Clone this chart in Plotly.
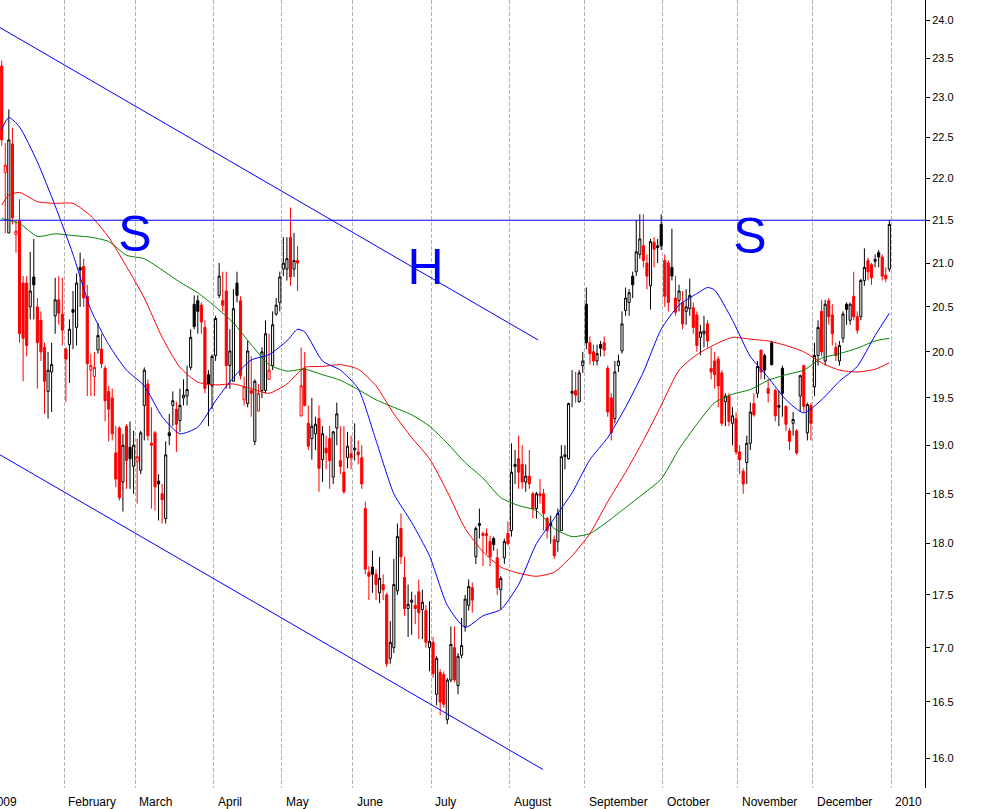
import plotly.graph_objects as go

# ---------------- data ----------------
opens = [
    23.40, 22.07, 21.35, 22.42, 21.33, 21.50, 20.77, 20.77, 20.50, 20.84,
    20.50, 20.35, 20.05, 19.57, 19.78, 20.40, 20.58, 20.42,
    20.03, 20.08, 20.47, 20.27, 20.95, 20.96, 20.62, 19.80, 19.73, 20.02,
    20.03, 19.82, 19.57, 19.50, 18.92, 19.18, 18.62, 19.20, 18.98,
    18.78, 18.83, 18.74, 19.42, 19.65, 19.02, 19.13, 18.63, 18.50, 18.25,
    19.13, 19.42, 19.38, 19.26, 19.50, 19.52, 19.83, 20.53, 20.57, 20.52,
    20.27, 19.75,
    19.63, 19.96, 20.63, 20.57, 20.68, 19.85, 19.68, 20.77, 20.57, 19.48,
    19.44, 19.58, 19.04, 19.36, 19.58, 19.58, 19.70, 19.85, 20.42, 20.55,
    20.93, 20.93, 21.30, 20.93, 21.03, 19.31, 19.82, 19.23, 19.07, 19.12,
    19.28, 18.85, 18.97, 19.07, 18.67, 19.18, 18.84, 18.72, 18.87, 18.91,
    18.95, 18.93, 18.87, 18.35, 17.72, 17.77, 17.70, 17.52, 17.60, 17.50,
    16.90, 17.00, 17.54, 18.15, 17.67, 17.37, 17.43, 17.40, 17.53, 17.36,
    17.35, 17.00, 17.05,
    16.57, 16.77, 16.75, 16.34, 16.70, 17.00, 16.65, 16.93, 17.20, 17.40,
    17.57, 17.87, 18.18, 18.08, 18.10, 18.02, 18.05, 17.86, 17.55, 17.86,
    18.10,
    18.13, 18.78, 18.86, 18.80, 18.62, 18.68, 18.50, 18.35, 18.50, 18.50,
    18.25, 18.20, 18.04, 18.02, 18.13, 18.88, 18.86, 19.55, 19.58, 19.46,
    19.85,
    20.53, 20.10, 20.00, 19.90, 20.08, 20.10, 19.82, 19.50, 19.28, 19.85,
    20.01, 20.46, 20.55, 20.85, 20.90, 21.10, 21.20, 21.00, 20.74, 21.24,
    21.20, 21.45,
    21.03, 21.00, 20.95, 20.60, 20.57, 20.55, 20.45, 20.48, 20.49, 20.41,
    20.16, 20.20, 20.31, 19.82, 19.90, 19.92, 19.77, 19.46, 19.52, 19.23,
    19.28,
    18.93, 18.73, 18.82, 19.02, 19.44, 19.55, 20.02, 19.96, 19.60, 20.10,
    19.58, 19.40, 19.82, 19.41, 19.15, 19.23, 19.15, 19.52, 19.85, 19.13,
    19.42,
    19.62, 19.96, 20.45, 19.90, 20.57, 20.41, 20.05, 19.90, 20.15, 20.53,
    20.35, 20.62, 20.39, 20.39, 20.80, 21.03, 20.98, 21.04, 21.12, 21.07,
    20.86, 20.93,
]
highs = [
    23.47, 22.43, 22.85, 22.62, 21.50, 21.75, 20.85, 20.85, 21.13, 21.28,
    20.60, 20.45, 20.10, 20.00, 20.10, 20.83, 20.85, 20.83,
    20.05, 20.36, 20.68, 20.88, 21.12, 21.05, 20.75, 19.98, 20.00, 20.32,
    20.20, 19.85, 19.63, 19.60, 19.20, 19.20, 19.12, 19.22, 19.25,
    19.15, 19.07, 19.15, 19.83, 19.70, 19.40, 19.15, 18.70, 18.60, 19.04,
    19.33, 19.57, 19.46, 19.60, 19.70, 19.85, 20.25, 20.63, 20.63, 20.55,
    20.35, 19.80,
    19.97, 20.40, 21.00, 20.90, 20.90, 20.25, 20.70, 20.90, 20.62, 19.73,
    20.12, 19.95, 19.70, 19.65, 20.05, 20.35, 20.20, 20.45, 20.60, 20.90,
    21.30, 21.30, 21.65, 21.35, 21.20, 20.05, 20.00, 19.42, 19.50, 19.30,
    19.42, 19.20, 19.10, 19.20, 19.15, 19.45, 19.20, 19.20, 19.14, 19.10,
    19.23, 19.05, 19.00, 18.42, 17.78, 17.93, 17.75, 17.87, 17.70, 17.52,
    17.25, 17.85, 18.20, 18.30, 17.87, 17.60, 17.53, 17.50, 17.65, 17.55,
    17.40, 17.44, 17.10,
    16.92, 16.80, 16.78, 16.72, 17.20, 17.20, 16.95, 17.28, 17.50, 17.65,
    17.62, 18.17, 18.35, 18.12, 18.15, 18.08, 18.07, 17.95, 17.68, 18.05,
    18.22,
    19.02, 18.95, 19.10, 19.00, 18.80, 18.95, 18.52, 18.52, 18.65, 18.55,
    18.27, 18.28, 18.08, 18.35, 19.00, 19.00, 19.45, 19.80, 19.78, 19.80,
    20.00,
    20.72, 20.17, 20.08, 20.08, 20.12, 20.17, 19.85, 19.55, 19.90, 19.97,
    20.45, 20.72, 20.70, 20.90, 21.50, 21.57, 21.57, 21.10, 21.28, 21.30,
    21.28, 21.57,
    21.10, 21.03, 21.40, 20.85, 20.75, 20.68, 20.70, 20.82, 20.55, 20.45,
    20.30, 20.40, 20.35, 20.05, 20.00, 19.95, 19.80, 19.55, 19.55, 19.40,
    19.35,
    19.00, 18.76, 19.10, 19.45, 19.55, 19.90, 20.02, 19.98, 19.70, 20.12,
    19.60, 19.58, 19.85, 19.42, 19.18, 19.35, 19.17, 19.75, 19.86, 19.45,
    19.45,
    20.10, 20.35, 20.58, 20.58, 20.60, 20.53, 20.10, 20.12, 20.45, 20.55,
    20.55, 20.90, 20.45, 20.82, 21.17, 21.06, 21.00, 21.10, 21.15, 21.10,
    20.95, 21.50,
]
lows = [
    22.40, 21.35, 21.35, 21.45, 21.12, 20.10, 19.68, 19.95, 20.36, 20.36,
    19.60, 19.90, 19.33, 19.28, 19.35, 20.20, 20.30, 20.07,
    19.46, 19.66, 20.03, 20.07, 20.50, 20.50, 19.52, 19.52, 19.52, 19.98,
    19.82, 19.25, 19.04, 19.05, 18.57, 18.43, 18.32, 18.55, 18.55,
    18.50, 18.40, 18.70, 19.05, 19.05, 18.35, 18.33, 18.23, 18.20, 18.20,
    19.00, 19.20, 18.93, 19.14, 19.42, 19.42, 19.80, 20.25, 20.20, 20.20,
    19.55, 19.20,
    19.38, 19.90, 20.60, 20.45, 19.60, 19.60, 19.68, 20.55, 19.70, 19.42,
    19.40, 19.30, 19.00, 19.36, 19.50, 19.55, 19.70, 19.80, 20.40, 20.45,
    20.85, 20.80, 20.74, 20.84, 20.68, 19.30, 19.41, 18.95, 18.85, 18.95,
    18.52, 18.62, 18.75, 18.55, 18.60, 19.00, 18.70, 18.50, 18.76, 18.75,
    18.84, 18.80, 18.55, 17.70, 17.45, 17.52, 17.45, 17.42, 17.45, 16.82,
    16.85, 16.95, 17.50, 17.80, 17.30, 17.10, 17.12, 17.22, 17.08, 17.08,
    17.00, 16.78, 16.72,
    16.47, 16.38, 16.45, 16.30, 16.68, 16.68, 16.57, 16.90, 17.15, 17.35,
    17.33, 17.80, 18.05, 17.78, 17.90, 17.78, 17.93, 17.50, 17.36, 17.80,
    17.98,
    18.07, 18.60, 18.55, 18.55, 18.52, 18.55, 18.25, 18.25, 18.40, 18.13,
    18.05, 18.00, 17.85, 17.92, 18.13, 18.75, 18.85, 19.40, 19.45, 19.45,
    19.77,
    20.03, 19.86, 19.85, 19.85, 19.95, 19.95, 19.30, 19.05, 19.23, 19.78,
    19.98, 20.40, 20.40, 20.60, 20.85, 21.05, 20.95, 20.70, 20.47, 20.95,
    21.00, 21.15,
    20.50, 20.45, 20.80, 20.40, 20.45, 20.25, 20.30, 20.40, 20.20, 20.00,
    19.96, 20.05, 20.05, 19.70, 19.60, 19.40, 19.20, 19.20, 19.20, 19.00,
    18.90,
    18.70, 18.50, 18.60, 18.95, 19.30, 19.50, 19.70, 19.70, 19.45, 19.85,
    19.25, 19.20, 19.30, 19.15, 18.95, 19.10, 18.90, 19.35, 19.35, 19.05,
    19.05,
    19.52, 19.85, 19.95, 19.85, 20.30, 20.07, 19.90, 19.85, 20.10, 20.30,
    20.30, 20.35, 20.20, 20.35, 20.74, 20.80, 20.75, 20.95, 20.95, 20.80,
    20.78, 20.90,
]
closes = [
    22.47, 22.16, 22.47, 21.53, 21.37, 20.20, 20.15, 20.07, 20.68, 20.75,
    20.10, 20.00, 19.68, 19.80, 19.86, 20.58, 20.43, 20.24,
    19.92, 20.25, 20.44, 20.77, 20.92, 20.60, 19.87, 19.85, 19.83, 20.18,
    19.87, 19.47, 19.38, 19.12, 18.65, 18.46, 19.00, 18.84, 18.86,
    19.00, 18.88, 19.13, 19.80, 19.10, 19.00, 18.57, 18.60, 18.44, 18.90,
    19.10, 19.47, 19.22, 19.42, 19.53, 19.59, 20.16, 20.28, 20.45, 20.33,
    19.60, 19.65,
    19.95, 20.37, 20.85, 20.52, 19.85, 20.01, 20.48, 20.63, 19.74, 19.62,
    20.01, 19.55, 19.68, 19.55, 20.00, 20.20, 19.80, 20.30, 20.52, 20.84,
    21.00, 21.05, 20.84, 21.03, 21.00, 19.63, 19.42, 18.99, 19.20, 19.22,
    18.76, 19.12, 18.92, 18.84, 19.14, 19.33, 18.78, 18.52, 18.99, 18.87,
    18.97, 18.90, 18.60, 17.75, 17.68, 17.70, 17.60, 17.66, 17.55, 16.85,
    17.05, 17.60, 18.07, 17.87, 17.37, 17.41, 17.45, 17.37, 17.33, 17.43,
    17.05, 17.06, 16.76,
    16.90, 16.50, 16.48, 16.70, 17.03, 16.70, 16.92, 17.02, 17.46, 17.58,
    17.45, 18.15, 18.20, 18.10, 18.08, 17.87, 17.99, 17.57, 17.66, 18.02,
    18.00,
    18.72, 18.80, 18.72, 18.62, 18.68, 18.60, 18.35, 18.50, 18.48, 18.30,
    18.13, 18.18, 17.88, 18.30, 18.88, 18.90, 19.44, 19.57, 19.53, 19.77,
    19.90,
    20.10, 19.98, 19.90, 19.98, 20.04, 20.02, 19.35, 19.13, 19.78, 19.90,
    20.31, 20.60, 20.66, 20.75, 21.13, 21.28, 21.03, 20.85, 21.25, 21.16,
    21.18, 21.20,
    20.62, 20.55, 20.85, 20.44, 20.68, 20.31, 20.50, 20.63, 20.27, 20.07,
    20.22, 20.23, 20.12, 19.78, 19.75, 19.63, 19.23, 19.52, 19.25, 19.31,
    18.93,
    18.85, 18.60, 19.02, 19.35, 19.32, 19.84, 19.78, 19.80, 19.55, 19.86,
    19.31, 19.42, 19.55, 19.22, 19.04, 19.27, 18.92, 19.74, 19.41, 19.43,
    19.23,
    19.96, 20.27, 20.00, 20.53, 20.39, 20.20, 19.96, 20.07, 20.42, 20.47,
    20.53, 20.39, 20.24, 20.80, 20.95, 20.90, 20.83, 21.02, 21.07, 20.85,
    20.82, 21.45,
]
prev_close_before = 23.60

# moving averages (read at sample days)
blue_days = [0, 2, 5, 10, 15, 20, 25, 30, 35, 40, 45, 50, 55, 60, 65, 70, 75, 80, 83, 85,
             90, 95, 100, 105, 110, 115, 120, 125, 130, 135, 140, 145, 150, 155, 160, 165,
             170, 175, 180, 185, 190, 195, 198, 200, 205, 210, 215, 220, 225, 230, 235,
             240, 245, 249]
blue_vals = [22.60, 22.75, 22.63, 22.20, 21.67, 21.10, 20.47, 20.08, 19.80, 19.63, 19.30,
             19.12, 19.19, 19.47, 19.72, 19.91, 19.97, 20.12, 20.25, 20.22, 19.90, 19.80,
             19.60, 19.05, 18.50, 18.21, 17.88, 17.40, 17.19, 17.30, 17.36, 17.60, 18.00,
             18.25, 18.51, 18.85, 19.08, 19.40, 19.78, 20.25, 20.52, 20.65, 20.72, 20.69,
             20.35, 19.95, 19.72, 19.48, 19.34, 19.48, 19.68, 19.84, 20.18, 20.43]
red_days = [0, 2, 5, 10, 15, 20, 25, 30, 35, 40, 45, 50, 55, 60, 65, 70, 75, 80, 85, 90,
            95, 100, 105, 110, 115, 120, 125, 130, 135, 140, 145, 150, 155, 160, 165, 170,
            175, 180, 185, 190, 195, 200, 205, 210, 215, 220, 225, 230, 235, 240, 245, 249]
red_vals = [21.68, 21.80, 21.83, 21.72, 21.70, 21.70, 21.55, 21.30, 20.96, 20.60, 20.16,
            19.83, 19.67, 19.64, 19.65, 19.60, 19.55, 19.65, 19.83, 19.84, 19.86, 19.81,
            19.63, 19.33, 19.08, 18.86, 18.52, 18.15, 17.92, 17.77, 17.71, 17.68, 17.72,
            17.88, 18.10, 18.42, 18.72, 19.05, 19.42, 19.80, 19.97, 20.08, 20.16, 20.14,
            20.12, 20.07, 20.00, 19.88, 19.80, 19.78, 19.81, 19.88]
green_days = [0, 5, 10, 15, 20, 25, 30, 35, 40, 45, 50, 55, 60, 65, 70, 75, 80, 85, 90,
              95, 100, 105, 110, 115, 120, 125, 130, 135, 140, 145, 150, 155, 160, 165,
              170, 175, 180, 185, 190, 195, 200, 205, 210, 215, 220, 225, 230, 235, 240,
              245, 249]
green_vals = [21.52, 21.46, 21.31, 21.34, 21.32, 21.30, 21.25, 21.09, 21.05, 20.92, 20.78,
              20.66, 20.50, 20.32, 20.08, 19.86, 19.79, 19.81, 19.75, 19.69, 19.59, 19.48,
              19.40, 19.32, 19.20, 19.02, 18.82, 18.66, 18.46, 18.38, 18.33, 18.15, 18.07,
              18.10, 18.22, 18.36, 18.50, 18.65, 18.96, 19.22, 19.45, 19.54, 19.59, 19.69,
              19.75, 19.80, 19.93, 19.98, 20.04, 20.12, 20.15]

# channel lines and resistance level
upper_line_days = [-0.48, 150.5]
upper_line_vals = [23.90, 20.13]
lower_line_days = [-0.48, 151.8]
lower_line_vals = [18.90, 15.90]
resistance = 21.5

# pattern labels
pattern_text = ["S", "H", "S"]
pattern_days = [37.4, 118.9, 209.9]
pattern_vals = [21.28, 20.90, 21.26]

# month axis
month_names = ["2009", "February", "March", "April", "May", "June", "July", "August",
               "September", "October", "November", "December", "2010"]
month_first_day = [-4, 18, 38, 60, 79, 99, 121, 143, 164, 186, 207, 228, 250]

y_ticks = [16.0 + 0.5 * k for k in range(17)]

# ---------------- figure ----------------
FONT = "Liberation Sans, Arial, sans-serif"
X_RANGE = [-0.48, 259.0]
Y_RANGE = [1.196962, 1.384983]

n = len(closes)
days = list(range(n))
prev = [prev_close_before] + closes[:-1]
black_idx = [i for i in days if closes[i] >= prev[i]]
red_idx = [i for i in days if closes[i] < prev[i]]

fig = go.Figure()

def add_ma(dx, dy, color):
    fig.add_trace(go.Scatter(x=dx, y=dy, mode="lines",
                             line=dict(color=color, width=1, shape="spline", smoothing=0.6),
                             hoverinfo="skip", showlegend=False))

add_ma(green_days, green_vals, "#008000")
add_ma(red_days, red_vals, "#ff0000")
add_ma(blue_days, blue_vals, "#0000ff")

for dx, dy in [(upper_line_days, upper_line_vals), (lower_line_days, lower_line_vals),
               (X_RANGE, [resistance, resistance])]:
    fig.add_trace(go.Scatter(x=dx, y=dy, mode="lines",
                             line=dict(color="#0000ff", width=1),
                             hoverinfo="skip", showlegend=False))

def add_candles(idx, color):
    fig.add_trace(go.Candlestick(
        x=idx,
        open=[opens[i] for i in idx], high=[highs[i] for i in idx],
        low=[lows[i] for i in idx], close=[closes[i] for i in idx],
        increasing=dict(line=dict(color=color, width=1), fillcolor="white"),
        decreasing=dict(line=dict(color=color, width=1), fillcolor=color),
        whiskerwidth=0, hoverinfo="skip", showlegend=False))

add_candles(black_idx, "#000000")
add_candles(red_idx, "#ff0000")

fig.add_trace(go.Scatter(x=pattern_days, y=pattern_vals, mode="text", text=pattern_text,
                         textposition="middle center",
                         textfont=dict(family=FONT, size=50, color="#0000ff"),
                         hoverinfo="skip", showlegend=False))

grid_days = [d - 0.5 for d in month_first_day]
span = X_RANGE[1] - X_RANGE[0]
for name, g in zip(month_names, grid_days):
    fig.add_annotation(x=(g - X_RANGE[0]) / span, xref="paper", y=0, yref="paper",
                       text=name, showarrow=False, xanchor="left", yanchor="top",
                       xshift=2, yshift=-5, font=dict(family=FONT, size=12, color="black"))

fig.update_layout(
    width=982, height=809,
    margin=dict(l=0, r=57, t=0, b=21),
    paper_bgcolor="white", plot_bgcolor="white",
    showlegend=False,
    boxgap=0.15,
    xaxis=dict(range=X_RANGE, tickvals=grid_days[1:], showticklabels=False, ticks="",
               showgrid=True, gridcolor="#b4b4b4", griddash="4px,2px", gridwidth=1,
               zeroline=False, showline=False, rangeslider=dict(visible=False),
               fixedrange=True),
    yaxis=dict(type="log", range=Y_RANGE, side="right", tickvals=y_ticks,
               ticktext=[f"{v:.1f}" for v in y_ticks], ticks="outside", ticklen=4,
               tickcolor="black", showline=True, linecolor="black", linewidth=1,
               showgrid=False, zeroline=False,
               tickfont=dict(family=FONT, size=11, color="black"), fixedrange=True),
)

fig.write_html("out.html", config={"displayModeBar": False},
               post_script="document.body.style.margin='0px';document.body.style.overflow='hidden';")
